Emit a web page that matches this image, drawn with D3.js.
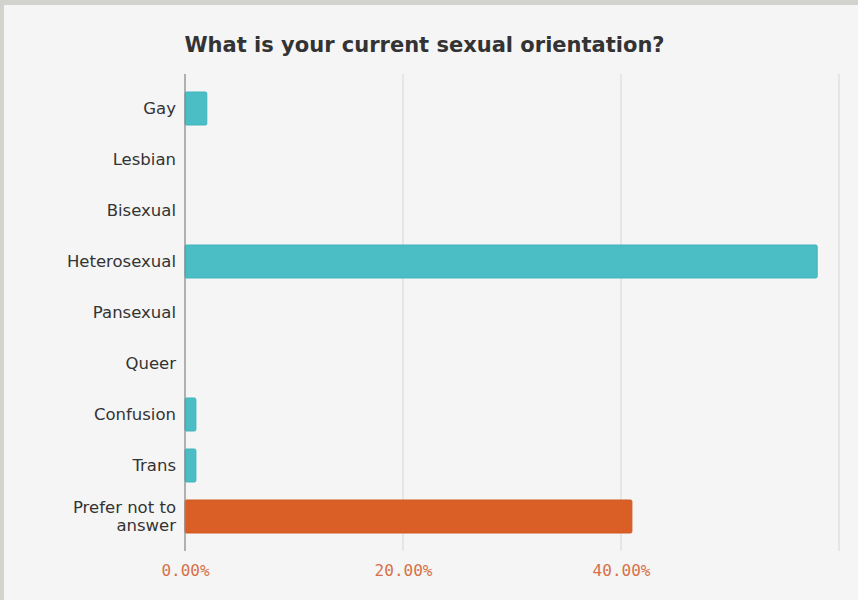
<!DOCTYPE html>
<html>
<head>
<meta charset="utf-8">
<script src="https://cdn.jsdelivr.net/npm/d3@7"></script>
<style>
  html, body { margin: 0; padding: 0; background: #d3d3cd; }
  svg { display: block; }
</style>
</head>
<body>
<svg id="chart" width="858" height="600"></svg>
<script>
// Survey answers, share of respondents (%)
const categories = ["Gay", "Lesbian", "Bisexual", "Heterosexual", "Pansexual", "Queer", "Confusion", "Trans", "Prefer not to answer"];
const values = [2, 0, 0, 58, 0, 0, 1, 1, 41];
const highlighted = ["Prefer not to answer"];
const tickValues = [0, 20, 40, 60];
const tickLabels = ["0.00%", "20.00%", "40.00%"];
const title = "What is your current sexual orientation?";

const svg = d3.select("#chart");

// Panel inside the thin frame
svg.append("rect")
  .attr("x", 4).attr("y", 5)
  .attr("width", 854).attr("height", 595)
  .attr("fill", "#f5f5f5");

const x = d3.scaleLinear().domain([0, 60]).range([185, 839]);
const y = d3.scaleBand().domain(categories).range([74, 551]).padding(0.353);

// Vertical grid lines
svg.append("g").selectAll("line")
  .data(tickValues.slice(1))
  .join("line")
  .attr("x1", d => x(d)).attr("x2", d => x(d))
  .attr("y1", 74).attr("y2", 551)
  .attr("stroke", "#dcdcdc")
  .attr("stroke-width", 1.2);

// Bars
svg.append("g").selectAll("rect")
  .data(categories.map((c, i) => ({ c, v: values[i] })).filter(d => d.v > 0))
  .join("rect")
  .attr("x", x(0))
  .attr("y", d => y(d.c))
  .attr("width", d => x(d.v) - x(0))
  .attr("height", y.bandwidth())
  .attr("rx", 1.5)
  .attr("fill", d => highlighted.includes(d.c) ? "#d95f26" : "#4bbdc5")
  .attr("stroke", d => highlighted.includes(d.c) ? "#d0581f" : "#3fb5be")
  .attr("stroke-width", 1);

// Baseline axis
svg.append("line")
  .attr("x1", x(0)).attr("x2", x(0))
  .attr("y1", 74).attr("y2", 551)
  .attr("stroke", "#8a8a8a")
  .attr("stroke-width", 1.3);

// Category labels (wrapped where long)
const wrap = { "Prefer not to answer": ["Prefer not to", "answer"] };
const labels = svg.append("g")
  .attr("font-family", "'DejaVu Sans', Verdana, sans-serif")
  .attr("font-size", 16.5)
  .attr("fill", "#333")
  .attr("text-anchor", "end");
categories.forEach(c => {
  const lines = wrap[c] || [c];
  const cy = y(c) + y.bandwidth() / 2;
  const lh = 18;
  const t = labels.append("text").attr("x", 176);
  lines.forEach((ln, i) => {
    t.append("tspan")
      .attr("x", 176)
      .attr("y", cy + (i - (lines.length - 1) / 2) * lh)
      .attr("dy", "0.35em")
      .text(ln);
  });
});

// Tick labels
const xAxis = d3.axisBottom(x)
  .tickValues(tickValues.slice(0, tickLabels.length))
  .tickFormat((d, i) => tickLabels[i])
  .tickSize(0)
  .tickPadding(0);
const ax = svg.append("g")
  .attr("transform", "translate(0,566)")
  .call(xAxis);
ax.select(".domain").remove();
ax.selectAll("text")
  .attr("font-family", "'DejaVu Sans Mono', monospace")
  .attr("font-size", 16)
  .attr("fill", "#d6714a")
  .attr("dy", "0.6em");

// Title
svg.append("text")
  .attr("x", 424.5)
  .attr("y", 52)
  .attr("text-anchor", "middle")
  .attr("font-family", "'DejaVu Sans', Verdana, sans-serif")
  .attr("font-weight", "bold")
  .attr("font-size", 21)
  .attr("fill", "#333")
  .text(title);
</script>
</body>
</html>
